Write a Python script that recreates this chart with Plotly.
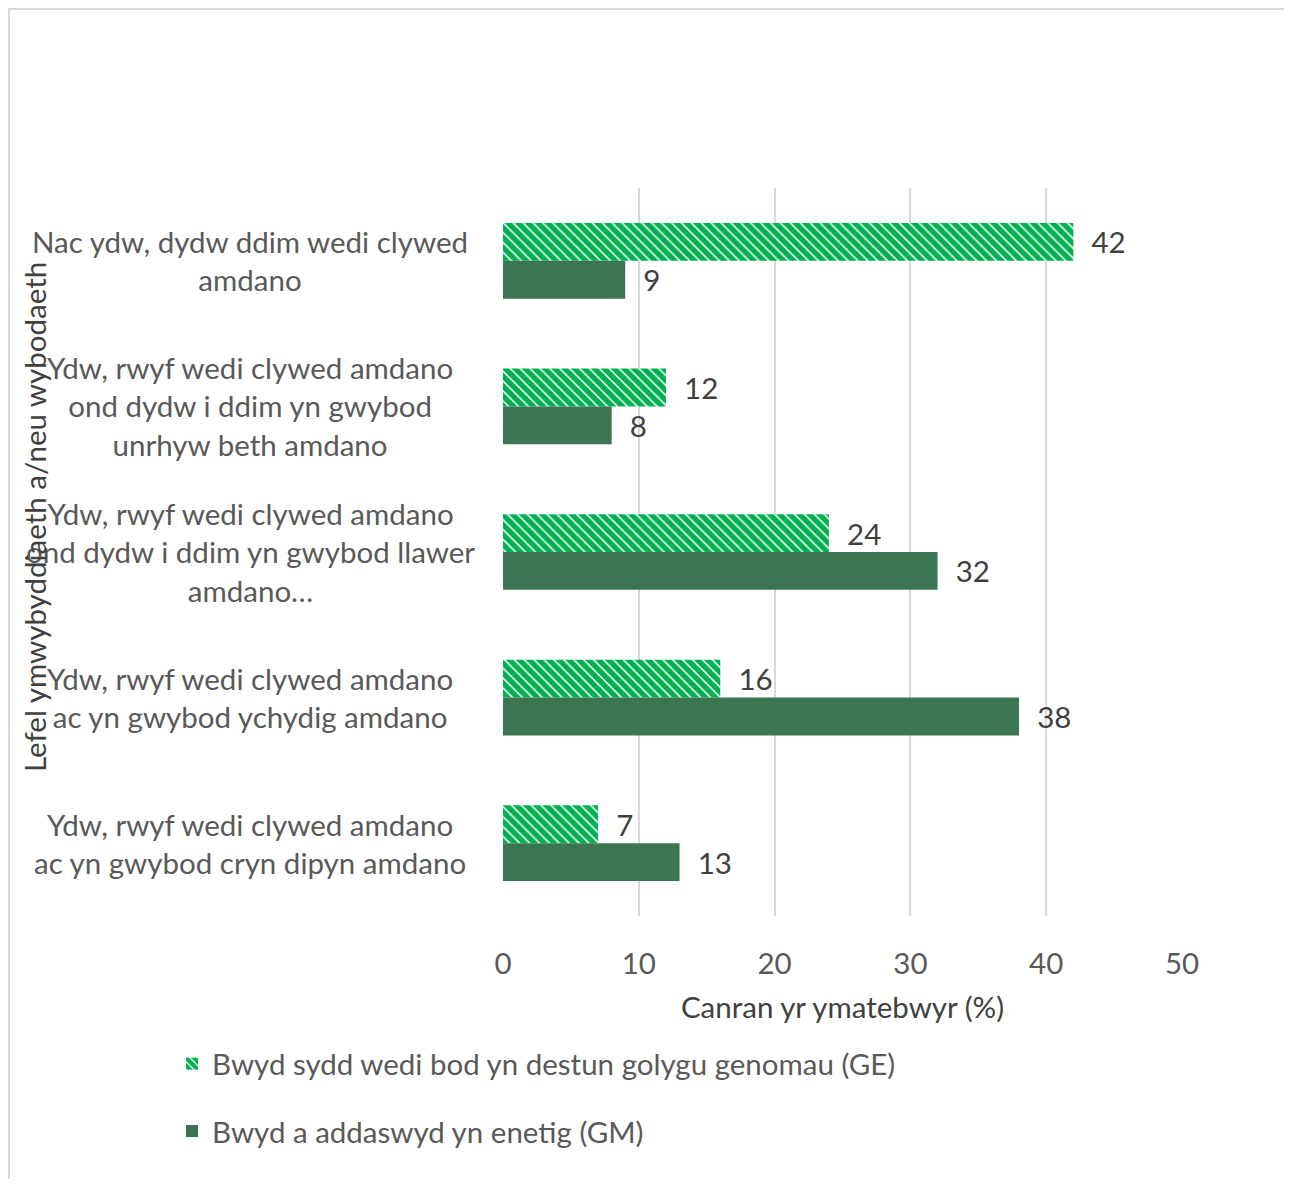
import plotly.graph_objects as go

categories = [
    "Nac ydw, dydw ddim wedi clywed<br>amdano",
    "Ydw, rwyf wedi clywed amdano<br>ond dydw i ddim yn gwybod<br>unrhyw beth amdano",
    "Ydw, rwyf wedi clywed amdano<br>ond dydw i ddim yn gwybod llawer<br>amdano…",
    "Ydw, rwyf wedi clywed amdano<br>ac yn gwybod ychydig amdano",
    "Ydw, rwyf wedi clywed amdano<br>ac yn gwybod cryn dipyn amdano",
]
cat_keys = ["c1", "c2", "c3", "c4", "c5"]
ge_values = [42, 12, 24, 16, 7]
gm_values = [9, 8, 32, 38, 13]
series_names = [
    "Bwyd sydd wedi bod yn destun golygu genomau (GE)",
    "Bwyd a addaswyd yn enetig (GM)",
]
x_ticks = [0, 10, 20, 30, 40, 50]

FONT = "Lato"
FS = 29.5
# page has an 8px body margin; figure coordinates below are page - 8
W, H = 1282, 1171
L, T = 495, 180
R = W - 1174
B = H - 908
pw = W - L - R
ph = H - T - B

def px(xp):
    return (xp - 8 - L) / pw

def py(yp):
    return (H - B - (yp - 8)) / ph

pad = "\u00a0\u00a0"

fig = go.Figure()
fig.add_trace(go.Bar(
    y=cat_keys, x=ge_values, orientation="h", name=series_names[0],
    marker=dict(color="white", line=dict(width=0),
                pattern=dict(shape="\\", fgcolor="#00B050", bgcolor="white",
                             size=7, solidity=0.78, fgopacity=1,
                             fillmode="overlay")),
    text=[pad + str(v) for v in ge_values], textposition="outside",
    textfont=dict(family=FONT, size=FS, color="#404040"),
    cliponaxis=False, legendgroup="a",
))
fig.add_trace(go.Bar(
    y=cat_keys, x=gm_values, orientation="h", name=series_names[1],
    marker=dict(color="#3B7552", line=dict(width=0)),
    text=[pad + str(v) for v in gm_values], textposition="outside",
    textfont=dict(family=FONT, size=FS, color="#404040"),
    cliponaxis=False, legendgroup="b",
))

annotations = []
for k, lab in zip(cat_keys, categories):
    annotations.append(dict(
        x=px(250), xref="paper", y=k, yref="y", text=lab,
        showarrow=False, xanchor="center", yanchor="middle", align="center",
        font=dict(family=FONT, size=FS, color="#595959"),
    ))
annotations.append(dict(
    x=px(35), xref="paper", y=py(517), yref="paper",
    text="Lefel ymwybyddiaeth a/neu wybodaeth", textangle=-90,
    showarrow=False, xanchor="center", yanchor="middle",
    font=dict(family=FONT, size=FS, color="#404040"),
))

fig.update_layout(
    width=W, height=H,
    margin=dict(l=L, r=R, t=T, b=B),
    paper_bgcolor="white", plot_bgcolor="white",
    barmode="group", bargap=0.48, bargroupgap=0,
    font=dict(family=FONT, size=FS, color="#595959"),
    xaxis=dict(range=[0, 50], tickvals=x_ticks, showgrid=True,
               gridcolor="#D9D9D9", gridwidth=2, zeroline=False,
               showline=False, ticks="", ticklabelstandoff=27,
               tickfont=dict(family=FONT, size=FS, color="#595959"),
               title=dict(text="Canran yr ymatebwyr (%)", standoff=18,
                          font=dict(family=FONT, size=FS, color="#404040"))),
    yaxis=dict(autorange="reversed", showticklabels=False, showgrid=False,
               zeroline=False, showline=False),
    legend=dict(orientation="v", x=px(172), xanchor="left",
                y=py(1038), yanchor="top", tracegroupgap=26,
                traceorder="grouped",
                font=dict(family=FONT, size=FS, color="#595959")),
    annotations=annotations,
    shapes=[dict(type="rect", xref="paper", yref="paper",
                 x0=px(9), x1=px(1287),
                 y0=py(1200), y1=py(9),
                 line=dict(color="#D9D9D9", width=2), fillcolor="rgba(0,0,0,0)",
                 layer="below")],
)

fig.write_html("out.html")
